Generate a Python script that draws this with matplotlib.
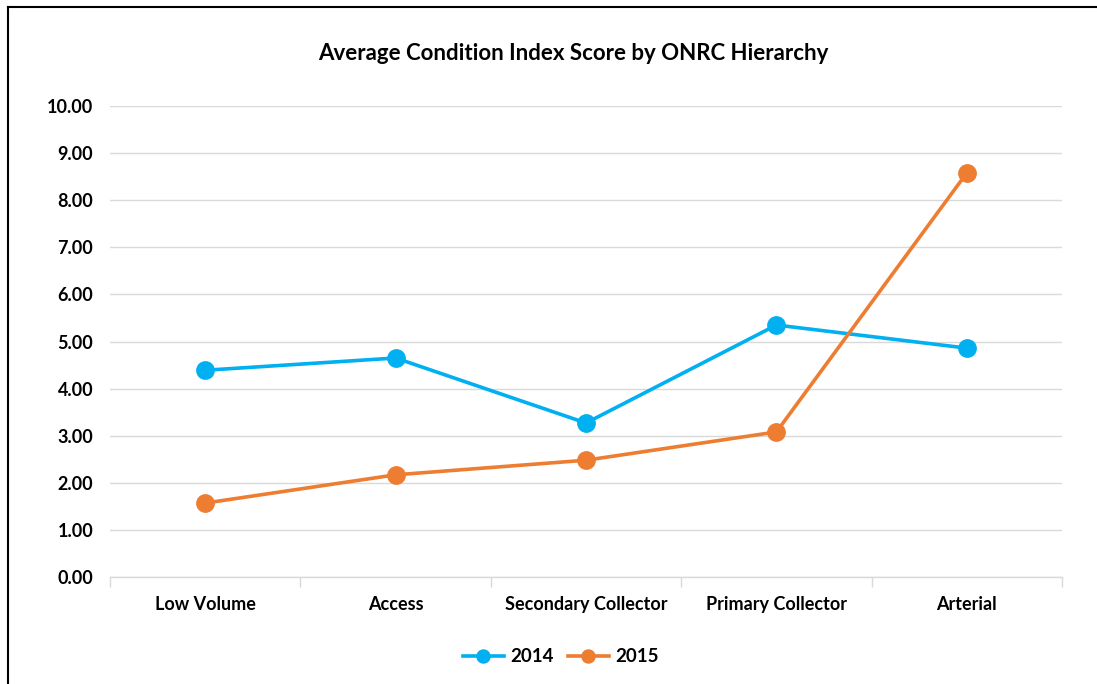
import matplotlib
matplotlib.use("Agg")
import matplotlib.pyplot as plt
from matplotlib.lines import Line2D
from matplotlib.ticker import FixedLocator

categories = ["Low Volume", "Access", "Secondary Collector", "Primary Collector", "Arterial"]
series_2014 = [4.39, 4.65, 3.27, 5.35, 4.86]
series_2015 = [1.57, 2.17, 2.48, 3.08, 8.58]
yticks = [0, 1, 2, 3, 4, 5, 6, 7, 8, 9, 10]

plt.rcParams['font.family'] = ['Lato', 'DejaVu Sans']
plt.rcParams['font.weight'] = 'bold'

fig = plt.figure(figsize=(10.97, 6.84), dpi=100)
ax = fig.add_axes([0.1003, 0.1564, 0.8678, 0.6886])

x = list(range(len(categories)))
ax.plot(x, series_2014, color="#00B0F0", lw=2.6, marker="o", ms=12.5, label="2014", zorder=3)
ax.plot(x, series_2015, color="#ED7D31", lw=2.6, marker="o", ms=12.5, label="2015", zorder=3)

ax.set_xlim(-0.5, 4.5)
ax.set_ylim(0, 10)
ax.set_yticks(yticks)
ax.set_yticklabels([f"{v:.2f}" for v in yticks])
ax.set_xticks(x)
ax.set_xticklabels(categories)
ax.xaxis.set_minor_locator(FixedLocator([i - 0.5 for i in range(len(categories) + 1)]))
ax.tick_params(axis='x', which='major', length=0, pad=13.5, labelsize=13)
ax.tick_params(axis='x', which='minor', length=7, color="#D9D9D9", width=1)
ax.tick_params(axis='y', length=0, pad=12, labelsize=13)
for lab in ax.get_xticklabels() + ax.get_yticklabels():
    lab.set_fontweight('bold')
    lab.set_color('#000000')

ax.grid(axis='y', color="#D9D9D9", lw=1)
ax.set_axisbelow(True)
for s in ['top', 'right', 'left']:
    ax.spines[s].set_visible(False)
ax.spines['bottom'].set_color("#D9D9D9")
ax.spines['bottom'].set_linewidth(1)

fig.text(0.523, 1 - 53 / 684, "Average Condition Index Score by ONRC Hierarchy",
         ha='center', va='center', fontsize=16, fontweight='bold')

leg = fig.legend(loc='center', bbox_to_anchor=(0.511, 1 - 657 / 684), ncol=2, frameon=False,
                 fontsize=13.5, handlelength=2.2, columnspacing=0.75, handletextpad=0.32,
                 markerscale=0.75)
for t in leg.get_texts():
    t.set_fontweight('bold')

fig.add_artist(Line2D([8 / 1097, 1.0], [1 - 7 / 684, 1 - 7 / 684], color='black', lw=1.5,
                      transform=fig.transFigure))
fig.add_artist(Line2D([8 / 1097, 8 / 1097], [0, 1 - 7 / 684], color='black', lw=1.5,
                      transform=fig.transFigure))

fig.savefig("out.png", dpi=100, facecolor='white')
